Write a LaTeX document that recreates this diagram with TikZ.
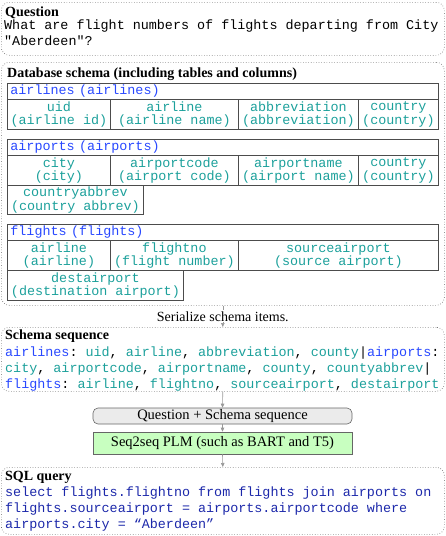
\documentclass[tikz,border=0pt]{standalone}
\usepackage{fontspec}
\setmainfont{Liberation Serif}
\setmonofont{Liberation Mono}
\usetikzlibrary{arrows.meta,positioning}
\definecolor{tblblue}{RGB}{40,72,255}
\definecolor{clmteal}{RGB}{28,160,155}
\definecolor{sqlblue}{RGB}{28,40,170}
\definecolor{plmgreen}{RGB}{200,255,192}
\newcommand{\tblname}[1]{\textcolor{tblblue}{#1}}
\newcommand{\clmname}[1]{\textcolor{clmteal}{#1}}
\tikzset{
    panel/.style={draw=black!65, dotted, line width=0.6pt, rounded corners=8pt,
        inner sep=0pt, anchor=north west},
    heading/.style={font=\fontsize{14}{16}\selectfont\bfseries, anchor=base west, inner sep=0pt},
    codeline/.style={font=\fontsize{13.4}{16}\selectfont\ttfamily, anchor=base west, inner sep=0pt},
    thead/.style={draw=black!70, line width=0.8pt, anchor=north west, text width=425pt,
        inner xsep=3pt, inner ysep=0pt, minimum height=16pt, align=left, text=tblblue,
        font=\fontsize{13.4}{13.3}\selectfont\ttfamily},
    cell/.style={draw=black!70, line width=0.8pt, anchor=north west, inner sep=0pt,
        minimum height=30pt, align=center, text=clmteal,
        font=\fontsize{13.4}{13.3}\selectfont\ttfamily},
    flow/.style={draw=black!40, line width=0.6pt, -{Triangle[length=4pt,width=3.5pt]}},
    stepbox/.style={draw=black!60, line width=0.6pt, minimum width=259pt, inner sep=0pt,
        font=\fontsize{14.5}{16}\selectfont}
}
\begin{document}
\begin{tikzpicture}[x=1pt,y=-1pt]
\useasboundingbox (0,0) rectangle (446,536);
% question
\node[panel, minimum width=443pt, minimum height=53pt] (qpanel) at (1,2) {};
\node[heading] (qtitle) at (5,16) {Question};
\node[codeline] (q1) at (4,29) {What are flight numbers of flights departing from City};
\node[codeline] (q2) at (4,45) {"Aberdeen"?};
% database schema
\node[panel, minimum width=443pt, minimum height=243pt] (dbpanel) at (1,62) {};
\node[heading] (dbtitle) at (7,77) {Database schema (including tables and columns)};
% airlines
\node[thead] (alHead) at (7,83) {airlines (airlines)};
\node[cell, minimum width=103pt] (alUid) at (7,99) {uid\\(airline id)};
\node[cell, minimum width=128pt] (alAirline) at (110,99) {airline\\(airline name)};
\node[cell, minimum width=120pt] (alAbbrev) at (238,99) {abbreviation\\(abbreviation)};
\node[cell, minimum width=80pt] (alCountry) at (358,99) {country\\(country)};
% airports
\node[thead] (apHead) at (7,139) {airports (airports)};
\node[cell, minimum width=103pt] (apCity) at (7,155) {city\\(city)};
\node[cell, minimum width=128pt] (apCode) at (110,155) {airportcode\\(airport code)};
\node[cell, minimum width=120pt] (apName) at (238,155) {airportname\\(airport name)};
\node[cell, minimum width=80pt] (apCountry) at (358,155) {country\\(country)};
\node[cell, minimum width=136pt, minimum height=29pt] (apAbbrev) at (7,185) {countryabbrev\\(country abbrev)};
% flights
\node[thead] (flHead) at (7,224) {flights (flights)};
\node[cell, minimum width=103pt] (flAirline) at (7,240) {airline\\(airline)};
\node[cell, minimum width=128pt] (flNo) at (110,240) {flightno\\(flight number)};
\node[cell, minimum width=200pt] (flSource) at (238,240) {sourceairport\\(source airport)};
\node[cell, minimum width=176pt] (flDest) at (7,270) {destairport\\(destination airport)};
% schema sequence
\node[panel, minimum width=443pt, minimum height=64pt] (seqpanel) at (1,327) {};
\node[heading] (seqtitle) at (5,339) {Schema sequence};
\node[codeline] (seq1) at (5,356) {\tblname{airlines}: \clmname{uid}, \clmname{airline}, \clmname{abbreviation}, \clmname{county}|\tblname{airports}:};
\node[codeline] (seq2) at (5,372) {\clmname{city}, \clmname{airportcode}, \clmname{airportname}, \clmname{county}, \clmname{countyabbrev}|};
\node[codeline] (seq3) at (5,388) {\tblname{flights}: \clmname{airline}, \clmname{flightno}, \clmname{sourceairport}, \clmname{destairport}};
% model
\node[stepbox, rounded corners=5pt, fill=black!8, minimum height=16pt] (input) at (222.5,416) {Question + Schema sequence};
\node[stepbox, fill=plmgreen, minimum height=22pt] (plm) at (222.5,443) {Seq2seq PLM (such as BART and T5)};
% sql query
\node[panel, minimum width=443pt, minimum height=67pt] (sqlpanel) at (1,467) {};
\node[heading] (sqltitle) at (5,480) {SQL query};
\node[codeline, text=sqlblue] (sql1) at (5,496) {select flights.flightno from flights join airports on};
\node[codeline, text=sqlblue] (sql2) at (5,512) {flights.sourceairport = airports.airportcode where};
\node[codeline, text=sqlblue] (sql3) at (5,528) {airports.city = “Aberdeen”};
% arrows
\draw[flow] (dbpanel.south) -- (seqpanel.north)
    node[midway, fill=white, inner sep=1pt, font=\fontsize{14}{16}\selectfont] {Serialize schema items.};
\draw[flow] (seqpanel.south) -- (input.north);
\draw[flow] (input.south) -- (plm.north);
\draw[flow] (plm.south) -- (sqlpanel.north);
\end{tikzpicture}
\end{document}
